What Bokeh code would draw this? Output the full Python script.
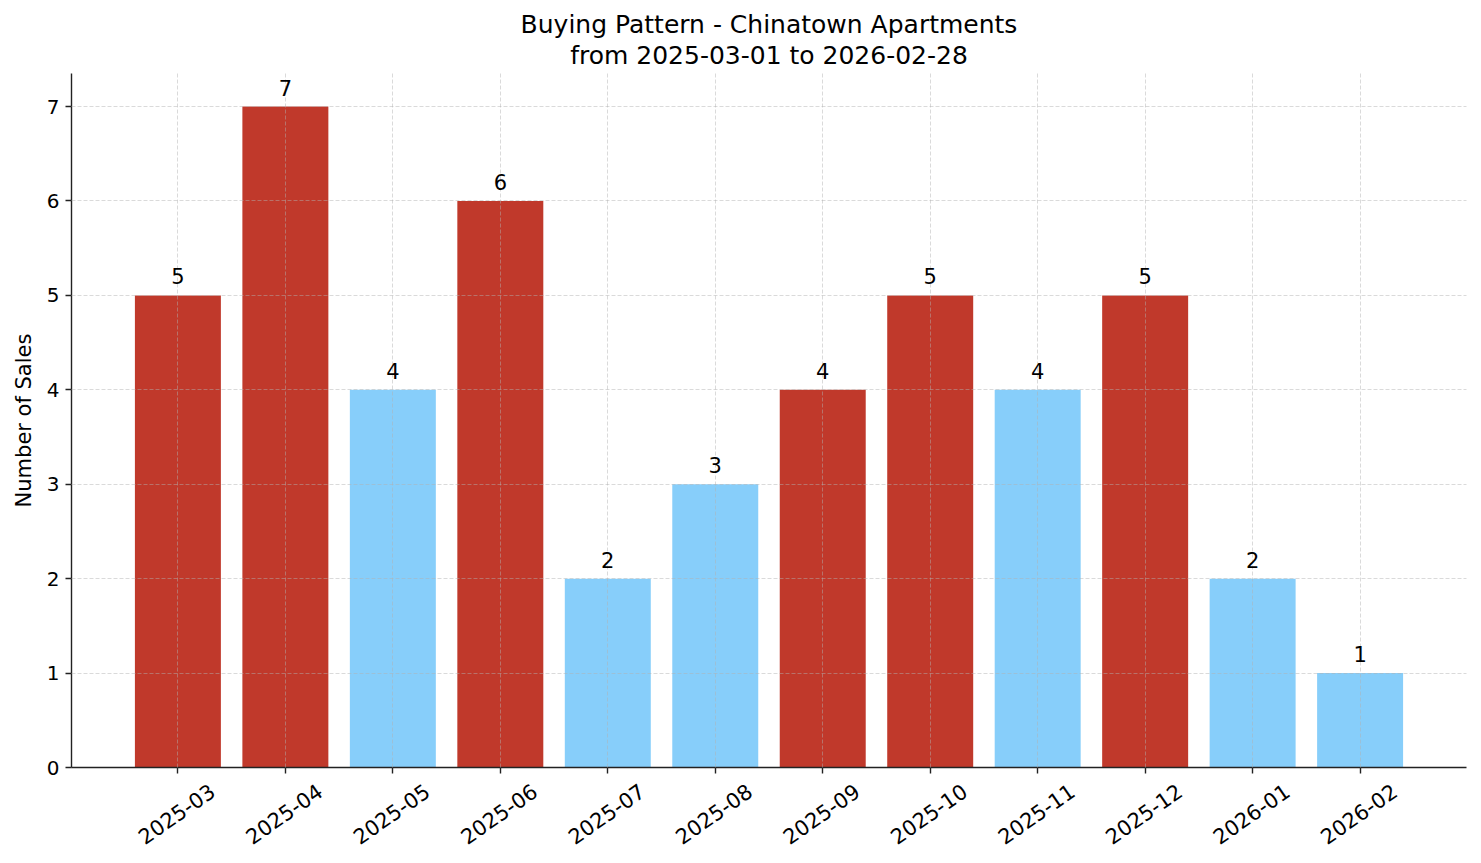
import math
from bokeh.plotting import figure
from bokeh.models import (ColumnDataSource, FixedTicker, LabelSet, Title,
                          Range1d, CustomJSTickFormatter, LinearAxis)
from bokeh.core.properties import value
from bokeh.embed import file_html
from bokeh.resources import INLINE

# ---- data ----
months = ["2025-03", "2025-04", "2025-05", "2025-06", "2025-07", "2025-08",
          "2025-09", "2025-10", "2025-11", "2025-12", "2026-01", "2026-02"]
sales = [5, 7, 4, 6, 2, 3, 4, 5, 4, 5, 2, 1]
RED = "#C0392B"
BLUE = "#87CEFA"
bar_colors = [RED, RED, BLUE, RED, BLUE, BLUE, RED, RED, BLUE, RED, BLUE, BLUE]
y_ticks = [0, 1, 2, 3, 4, 5, 6, 7]
title_line1 = "Buying Pattern - Chinatown Apartments"
title_line2 = "from 2025-03-01 to 2026-02-28"
y_label = "Number of Sales"

FONT = "DejaVu Sans"
INK = "#222222"
xs = list(range(len(months)))
src = ColumnDataSource(dict(x=xs, top=sales, color=bar_colors,
                            label=[str(v) for v in sales]))

p = figure(width=1481, height=863, output_backend="svg", toolbar_location=None,
           x_range=Range1d(-0.99, len(months) - 1 + 0.99),
           y_range=Range1d(0, max(sales) * 1.05),
           min_border_left=71, min_border_right=15, min_border_bottom=96,
           min_border_top=73)
p.outline_line_color = None
p.background_fill_color = "white"
p.border_fill_color = "white"

p.vbar(x="x", top="top", width=0.8, bottom=0, fill_color="color",
       line_color=None, source=src)

# value labels
p.add_layout(LabelSet(x="x", y="top", text="label", source=src,
                      text_align="center", text_baseline="alphabetic",
                      y_offset=11, text_font=value(FONT), text_font_size="21px",
                      text_color="black"))

# titles (added bottom-most first)
p.add_layout(Title(text=title_line2, align="center", text_font=FONT,
                   text_font_size="25px", text_font_style="normal",
                   text_color="black", standoff=8), "above")
p.add_layout(Title(text=title_line1, align="center", text_font=FONT,
                   text_font_size="25px", text_font_style="normal",
                   text_color="black", standoff=-9), "above")

# axes
for ax in (p.xaxis[0], p.yaxis[0]):
    ax.axis_line_color = INK
    ax.axis_line_width = 1.4
    ax.major_tick_line_color = INK
    ax.major_tick_line_width = 1.4
    ax.major_tick_out = 6
    ax.major_tick_in = 0
    ax.minor_tick_line_color = None
    ax.major_label_text_font = FONT
    ax.major_label_text_font_size = "20px"
    ax.major_label_text_color = "black"

p.yaxis.ticker = FixedTicker(ticks=y_ticks)
p.yaxis.major_label_standoff = 6
p.yaxis.axis_label = y_label
p.yaxis.axis_label_text_font = FONT
p.yaxis.axis_label_text_font_size = "21px"
p.yaxis.axis_label_text_font_style = "normal"
p.yaxis.axis_label_text_color = "black"
p.yaxis.axis_label_standoff = 8

# main x axis: ticks only
p.xaxis.ticker = FixedTicker(ticks=xs)
p.xaxis.formatter = CustomJSTickFormatter(code="return ''")
p.xaxis.major_label_standoff = 0

# second x axis: rotated month labels, shifted so each label is centred on its tick
shift = 0.32
lab_axis = LinearAxis(ticker=FixedTicker(ticks=[i + shift for i in xs]),
                      formatter=CustomJSTickFormatter(
                          args=dict(months=months, shift=shift),
                          code="return months[Math.round(tick - shift)]"),
                      axis_line_color=None, major_tick_line_color=None,
                      minor_tick_line_color=None,
                      major_label_orientation=math.radians(35),
                      major_label_standoff=9,
                      major_label_text_font=FONT,
                      major_label_text_font_size="21px",
                      major_label_text_color="black")
p.add_layout(lab_axis, "below")

# grid
for g in (p.xgrid[0], p.ygrid[0]):
    g.grid_line_color = "#b0b0b0"
    g.grid_line_alpha = 0.6
    g.grid_line_dash = "4 2"
    g.grid_line_width = 0.8
    g.level = "guide"
p.xgrid.ticker = FixedTicker(ticks=xs)
p.ygrid.ticker = FixedTicker(ticks=y_ticks)

open("out.html", "w").write(file_html(p, INLINE))
